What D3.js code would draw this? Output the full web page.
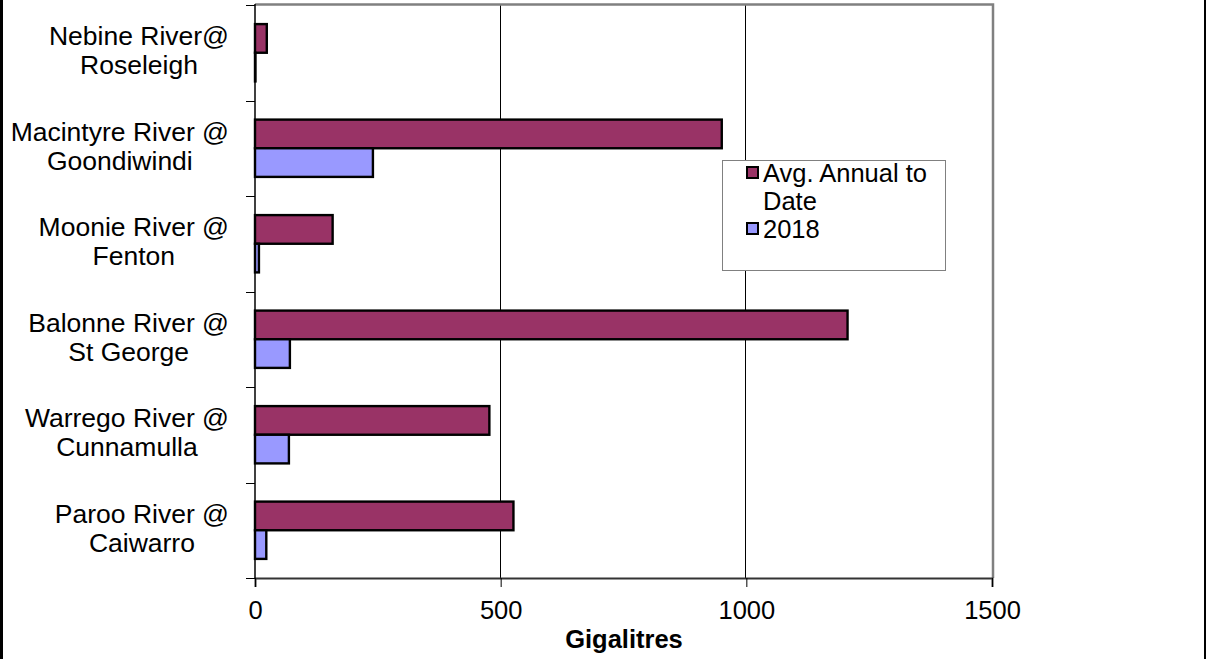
<!DOCTYPE html>
<html>
<head>
<meta charset="utf-8">
<script src="https://cdn.jsdelivr.net/npm/d3@7"></script>
<style>
  html, body { margin: 0; padding: 0; background: #fff; }
  svg { display: block; font-family: "Liberation Sans", Arial, sans-serif; }
</style>
</head>
<body>
<svg id="chart" width="1211" height="659"></svg>
<script>
// River gauges, listed top to bottom
const categories = [
  ["Nebine River@", "Roseleigh"],
  ["Macintyre River @", "Goondiwindi"],
  ["Moonie River @", "Fenton"],
  ["Balonne River @", "St George"],
  ["Warrego River @", "Cunnamulla"],
  ["Paroo River @", "Caiwarro"]
];
const seriesNames = ["Avg. Annual to Date", "2018"];
const avgAnnual = [24, 950, 158, 1206, 477, 526];
const flow2018 = [1, 240, 8, 71, 69, 23];
const xTicks = [0, 500, 1000, 1500];
const seriesColors = ["#993366", "#9999FF"];

const svg = d3.select("#chart");
const W = 1211, H = 659;
const plot = { left: 255, right: 992, top: 5, bottom: 578 };
const fontSize = 25.5;
const labelSize = 26.5;

// Outer chart frame (only the side edges fall inside the view)
svg.append("line").attr("x1", 1.5).attr("x2", 1.5).attr("y1", 0).attr("y2", H)
  .attr("stroke", "#000").attr("stroke-width", 3);
svg.append("line").attr("x1", 1205).attr("x2", 1205).attr("y1", 0).attr("y2", H)
  .attr("stroke", "#000").attr("stroke-width", 2);

const x = d3.scaleLinear().domain([0, 1500]).range([plot.left, plot.right]);
const px = v => Math.round(x(v)) + 0.5;
const keys = categories.map((c, i) => i);
const y = d3.scaleBand().domain(keys).range([plot.top, plot.bottom]).padding(0);
const inner = d3.scaleBand().domain(seriesNames)
  .range([y.bandwidth() * 0.2, y.bandwidth() * 0.8]).padding(0);

// Gridlines
svg.append("g").selectAll("line").data(xTicks.filter(t => t > 0 && t < 1500)).join("line")
  .attr("x1", d => px(d) - 1).attr("x2", d => px(d) - 1)
  .attr("y1", plot.top).attr("y2", plot.bottom)
  .attr("stroke", "#000").attr("stroke-width", 1);

// Plot frame: top and right edges in grey
svg.append("path")
  .attr("d", `M${plot.left},${plot.top - 0.5}H${plot.right + 1}V${plot.bottom}`)
  .attr("fill", "none").attr("stroke", "#808080").attr("stroke-width", 2.5);

// Bars
const series = [avgAnnual, flow2018];
series.forEach((vals, si) => {
  svg.append("g").selectAll("rect").data(vals).join("rect")
    .attr("x", x(0))
    .attr("y", (d, i) => y(i) + inner(seriesNames[si]))
    .attr("width", d => x(d) - x(0))
    .attr("height", inner.bandwidth())
    .attr("fill", seriesColors[si])
    .attr("stroke", "#000").attr("stroke-width", 2.4);
});

// Bottom axis
const xAxis = svg.append("g").attr("transform", `translate(0,${plot.bottom})`)
  .call(d3.axisBottom(x).tickValues(xTicks).tickSize(9).tickPadding(14).tickFormat(d3.format("d")));
xAxis.select(".domain").attr("stroke", "#333").attr("stroke-width", 2);
xAxis.selectAll(".tick line").attr("stroke", "#000");
xAxis.selectAll("text").attr("font-size", fontSize).attr("font-family", "Liberation Sans, Arial, sans-serif").attr("fill", "#000");

// Left axis: ticks at band boundaries
const yBounds = keys.map(k => y(k)).concat([plot.bottom]);
svg.append("line").attr("x1", plot.left).attr("x2", plot.left)
  .attr("y1", plot.top - 1).attr("y2", plot.bottom)
  .attr("stroke", "#000").attr("stroke-width", 1.5);
svg.append("g").selectAll("line").data(yBounds).join("line")
  .attr("x1", plot.left - 9).attr("x2", plot.left)
  .attr("y1", d => Math.round(d) + 0.5).attr("y2", d => Math.round(d) + 0.5)
  .attr("stroke", "#000").attr("stroke-width", 1);

// Category labels, centred as a block whose right edge sits near the axis
categories.forEach((lines, i) => {
  const t = svg.append("text").attr("font-size", labelSize).attr("text-anchor", "middle").attr("fill", "#000");
  const cy = y(i) + y.bandwidth() / 2;
  lines.forEach((s, li) => {
    t.append("tspan").attr("x", 0).attr("y", cy - 7.5 + li * 29).text(s);
  });
  const widths = t.selectAll("tspan").nodes().map(n => n.getComputedTextLength());
  const maxW = d3.max(widths);
  t.selectAll("tspan").attr("x", 229 - maxW / 2);
});

// Axis title
svg.append("text").attr("x", 624).attr("y", 648).attr("text-anchor", "middle")
  .attr("font-size", fontSize).attr("font-weight", "bold").text("Gigalitres");

// Legend
const lg = svg.append("g");
lg.append("rect").attr("x", 722.5).attr("y", 160.5).attr("width", 223).attr("height", 110)
  .attr("fill", "#fff").attr("stroke", "#808080").attr("stroke-width", 1);
const legendRows = [
  { lines: ["Avg. Annual to", "Date"], base: 182 },
  { lines: ["2018"], base: 238 }
];
legendRows.forEach((r, i) => {
  lg.append("rect").attr("x", 747).attr("y", r.base - 15).attr("width", 11).attr("height", 11)
    .attr("fill", seriesColors[i]).attr("stroke", "#000").attr("stroke-width", 2);
  const t = lg.append("text").attr("font-size", fontSize).attr("fill", "#000");
  r.lines.forEach((s, li) => t.append("tspan").attr("x", 763).attr("y", r.base + li * 28).text(s));
});
</script>
</body>
</html>
